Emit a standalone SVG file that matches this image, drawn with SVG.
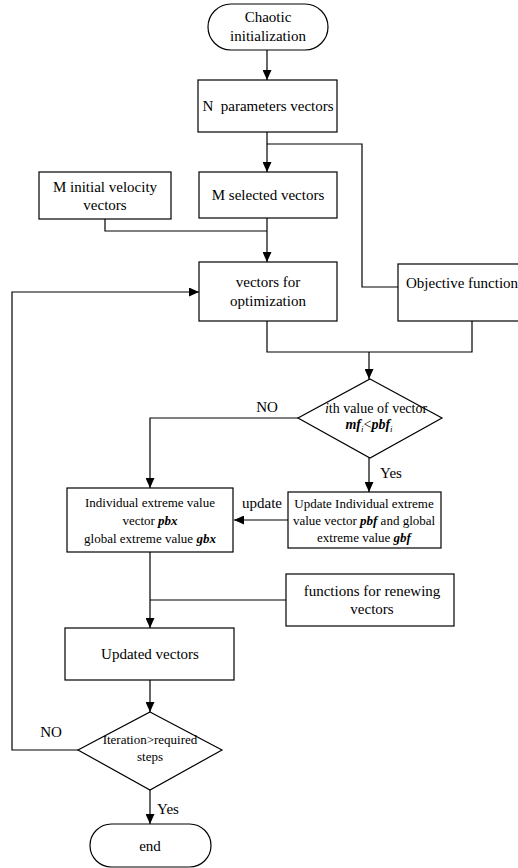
<svg xmlns="http://www.w3.org/2000/svg" width="518" height="868" viewBox="0 0 518 868">
<defs>
<marker id="ah" markerUnits="userSpaceOnUse" markerWidth="10" markerHeight="9" refX="10" refY="4.5" orient="auto">
<path d="M0,0 L10,4.5 L0,9 z" fill="#000"/>
</marker>
<style>
.n{fill:#fff;stroke:#000;stroke-width:1.2}
.t{font-family:"Liberation Serif","Times New Roman",serif;font-size:15px;fill:#000;text-anchor:middle}
.s{font-size:13px}
.bi{font-weight:bold;font-style:italic}
.c{fill:none;stroke:#000;stroke-width:1.2}
</style>
</defs>
<rect width="518" height="868" fill="#fff"/>
<g id="connectors">
<path class="c" d="M267,50 V80" marker-end="url(#ah)"/>
<path class="c" d="M267,132 V172" marker-end="url(#ah)"/>
<path class="c" d="M267,144 H362 V287 H398"/>
<path class="c" d="M105,219 V231 H267"/>
<path class="c" d="M267,218 V262" marker-end="url(#ah)"/>
<path class="c" d="M267,321 V352 H472 V321"/>
<path class="c" d="M369,352 V379" marker-end="url(#ah)"/>
<path class="c" d="M298,418 H150 V488" marker-end="url(#ah)"/>
<path class="c" d="M369,458 V492" marker-end="url(#ah)"/>
<path class="c" d="M288,520 H234" marker-end="url(#ah)"/>
<path class="c" d="M150,552 V628" marker-end="url(#ah)"/>
<path class="c" d="M286,600 H150"/>
<path class="c" d="M150,680 V712" marker-end="url(#ah)"/>
<path class="c" d="M78,750 H12 V292 H199" marker-end="url(#ah)"/>
<path class="c" d="M150,790 V824" marker-end="url(#ah)"/>
<text class="t" x="267" y="412">NO</text>
<text class="t" x="391" y="478">Yes</text>
<text class="t" x="262" y="508">update</text>
<text class="t" x="51" y="737">NO</text>
<text class="t" x="168" y="814">Yes</text>
</g>
<g id="chaotic">
<rect class="n" x="208" y="4" width="120" height="46" rx="23"/>
<text class="t" x="268" y="22">Chaotic</text>
<text class="t" x="268" y="41">initialization</text>
</g>
<g id="nparams">
<rect class="n" x="198" y="80" width="139" height="52"/>
<text class="t" x="268" y="111" xml:space="preserve">N  parameters vectors</text>
</g>
<g id="minit">
<rect class="n" x="39" y="172" width="132" height="47"/>
<text class="t" x="105" y="192">M initial velocity</text>
<text class="t" x="105" y="210">vectors</text>
</g>
<g id="msel">
<rect class="n" x="199" y="172" width="138" height="46"/>
<text class="t" x="268" y="200">M selected vectors</text>
</g>
<g id="vopt">
<rect class="n" x="199" y="262" width="138" height="59"/>
<text class="t" x="268" y="287">vectors for</text>
<text class="t" x="268" y="306">optimization</text>
</g>
<g id="objective">
<rect class="n" x="398" y="264" width="130" height="57"/>
<text class="t" x="406" y="288" style="text-anchor:start">Objective function</text>
</g>
<g id="decision1">
<path class="n" d="M370,379 L442,418 L370,458 L298,418 z"/>
<text class="t" x="376" y="413" style="font-size:14px"><tspan style="font-style:italic">i</tspan>th value of vector</text>
<text class="t" x="369" y="429" style="font-size:14px"><tspan class="bi">mf</tspan><tspan style="font-size:9px;font-style:italic" dy="3">i</tspan><tspan dy="-3">&lt;</tspan><tspan class="bi">pbf</tspan><tspan style="font-size:9px;font-style:italic" dy="3">i</tspan></text>
</g>
<g id="individual">
<rect class="n" x="67" y="488" width="166" height="64"/>
<text class="t s" x="150" y="507">Individual extreme value</text>
<text class="t s" x="150" y="525">vector <tspan class="bi">pbx</tspan></text>
<text class="t s" x="150" y="543">global extreme value <tspan class="bi">gbx</tspan></text>
</g>
<g id="update">
<rect class="n" x="288" y="492" width="153" height="56"/>
<text class="t s" x="364" y="508">Update Individual extreme</text>
<text class="t s" x="364" y="525">value vector <tspan class="bi">pbf</tspan> and global</text>
<text class="t s" x="364" y="542">extreme value <tspan class="bi">gbf</tspan></text>
</g>
<g id="renew">
<rect class="n" x="286" y="574" width="168" height="52"/>
<text class="t" x="372" y="596">functions for renewing</text>
<text class="t" x="372" y="614">vectors</text>
</g>
<g id="updated">
<rect class="n" x="65" y="628" width="169" height="52"/>
<text class="t" x="150" y="659">Updated vectors</text>
</g>
<g id="decision2">
<path class="n" d="M150,712 L222,750 L150,790 L78,750 z"/>
<text class="t s" x="150" y="744">Iteration&gt;required</text>
<text class="t s" x="150" y="761">steps</text>
</g>
<g id="end">
<rect class="n" x="90" y="824" width="121" height="43" rx="21.5"/>
<text class="t" x="150" y="851">end</text>
</g>
</svg>
